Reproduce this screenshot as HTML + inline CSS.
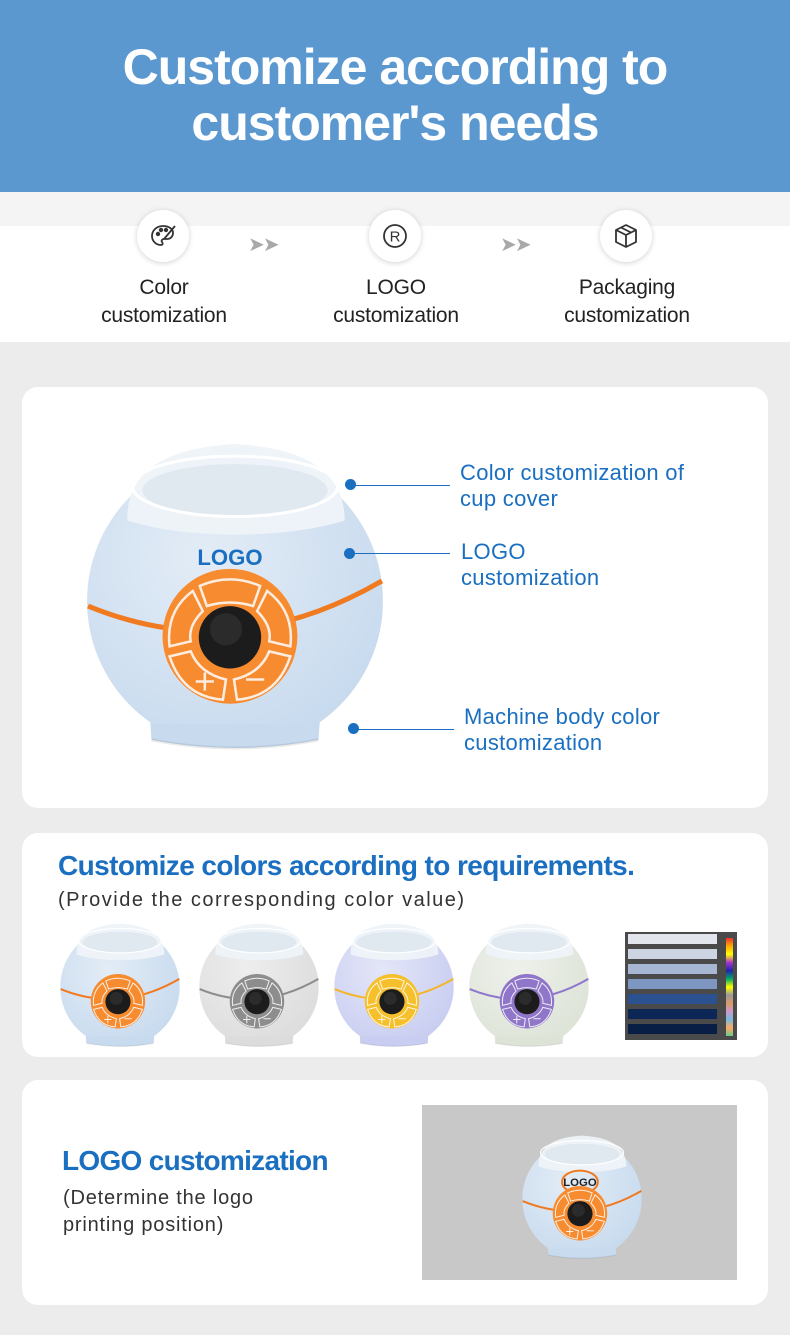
<!DOCTYPE html>
<html><head><meta charset="utf-8">
<style>
*{margin:0;padding:0;box-sizing:border-box}
body{width:790px;height:1335px;background:#ececec;font-family:"Liberation Sans",sans-serif;position:relative;overflow:hidden}
.abs{position:absolute}
.hdr{left:0;top:0;width:790px;height:192px;background:#5b98d0;color:#fff;text-align:center;font-weight:bold;font-size:50px;line-height:56px;letter-spacing:-1px;padding-top:39px}
.strip{left:0;top:192px;width:790px;height:34px;background:#f4f4f4}
.white{left:0;top:226px;width:790px;height:116px;background:#fff}
.ic{width:52px;height:52px;border-radius:50%;background:#fff;box-shadow:0 1px 6px rgba(0,0,0,.18);display:flex;align-items:center;justify-content:center}
.lbl{font-size:21px;line-height:28px;color:#222;text-align:center;width:200px;letter-spacing:-.2px}
.arr{color:#a9a9a9;font-size:20px;letter-spacing:-2px}
.card{background:#fff;border-radius:16px;left:22px;width:746px}
.blue{color:#1a6fc0}
.cl{font-size:22px;line-height:26px;color:#1a6fc0;letter-spacing:.3px}
.dot{width:11px;height:11px;border-radius:50%;background:#1a6fc0}
.ln{height:1px;background:#1a6fc0}
</style></head><body>
<div class="abs hdr">Customize according to<br>customer's needs</div>
<div class="abs strip"></div>
<div class="abs white"></div>

<div class="abs ic" style="left:137px;top:210px"><svg width="28" height="28" viewBox="0 0 28 28" fill="none" stroke="#333" stroke-width="1.8"><path d="M14 4C7 4 3 9 3 14c0 5 4 9 9 9 2 0 2-2 1-3-1-1 0-3 2-3h3c4 0 6-3 6-6 0-4-4-7-10-7z"/><circle cx="9" cy="12" r="1.3" fill="#333"/><circle cx="12" cy="8" r="1.3" fill="#333"/><circle cx="17" cy="8" r="1.3" fill="#333"/><path d="M26 4L15 17"/></svg></div>
<div class="abs ic" style="left:369px;top:210px"><svg width="28" height="28" viewBox="0 0 28 28" fill="none" stroke="#333" stroke-width="1.8"><circle cx="14" cy="14" r="11"/><text x="14" y="19.5" text-anchor="middle" font-size="15" font-family="Liberation Sans" fill="#333" stroke="none">R</text></svg></div>
<div class="abs ic" style="left:600px;top:210px"><svg width="28" height="28" viewBox="0 0 28 28" fill="none" stroke="#333" stroke-width="1.8" stroke-linejoin="round"><path d="M14 3l10 5v12l-10 5-10-5V8z"/><path d="M4 8l10 5 10-5M14 13v12M9 5.5l10 5"/></svg></div>
<div class="abs arr" style="left:248px;top:232px">➤➤</div>
<div class="abs arr" style="left:500px;top:232px">➤➤</div>
<div class="abs lbl" style="left:64px;top:274px">Color<br>customization</div>
<div class="abs lbl" style="left:296px;top:274px">LOGO<br>customization</div>
<div class="abs lbl" style="left:527px;top:274px">Packaging<br>customization</div>

<div class="abs card" style="top:387px;height:421px"></div>
<div class="abs card" style="top:833px;height:224px"></div>
<div class="abs card" style="top:1080px;height:225px"></div>

<div id="m1" class="abs" style="left:86px;top:440px;width:298px;height:312px"></div>

<div class="abs dot" style="left:345px;top:479px"></div><div class="abs ln" style="left:351px;top:485px;width:99px"></div>
<div class="abs dot" style="left:344px;top:548px"></div><div class="abs ln" style="left:350px;top:553px;width:100px"></div>
<div class="abs dot" style="left:348px;top:723px"></div><div class="abs ln" style="left:354px;top:729px;width:100px"></div>
<div class="abs cl" style="left:460px;top:460px">Color customization of<br>cup cover</div>
<div class="abs cl" style="left:461px;top:539px">LOGO<br>customization</div>
<div class="abs cl" style="left:464px;top:704px">Machine body color<br>customization</div>

<div class="abs blue" style="left:58px;top:850px;font-size:28px;font-weight:bold;letter-spacing:-.6px">Customize colors according to requirements.</div>
<div class="abs" style="left:58px;top:889px;font-size:20px;color:#333;letter-spacing:1.5px">(Provide the corresponding color value)</div>

<div id="s1" class="abs" style="left:58px;top:922px;width:124px;height:126px"></div>
<div id="s2" class="abs" style="left:197px;top:922px;width:124px;height:126px"></div>
<div id="s3" class="abs" style="left:332px;top:922px;width:124px;height:126px"></div>
<div id="s4" class="abs" style="left:467px;top:922px;width:124px;height:126px"></div>

<div class="abs" style="left:625px;top:932px;width:112px;height:108px;background:#4a4a4a">
 <div class="abs" style="left:3px;top:2px;width:89px;height:10px;background:#e2e6ec"></div>
 <div class="abs" style="left:3px;top:17px;width:89px;height:10px;background:#cdd5e3"></div>
 <div class="abs" style="left:3px;top:32px;width:89px;height:10px;background:#a7b6d3"></div>
 <div class="abs" style="left:3px;top:47px;width:89px;height:10px;background:#7e97c2"></div>
 <div class="abs" style="left:3px;top:62px;width:89px;height:10px;background:#2c5190"></div>
 <div class="abs" style="left:3px;top:77px;width:89px;height:10px;background:#0c2755"></div>
 <div class="abs" style="left:3px;top:92px;width:89px;height:10px;background:#091e45"></div>
 <div class="abs" style="left:101px;top:6px;width:7px;height:98px;background:linear-gradient(#e33,#fa0,#ff0,#a3c,#22a,#0a6,#ff0,#999,#d96,#c9c,#7bd,#fa6,#6c8)"></div>
</div>

<div class="abs blue" style="left:62px;top:1145px;font-size:28px;font-weight:bold;letter-spacing:-.7px">LOGO customization</div>
<div class="abs" style="left:63px;top:1185px;font-size:20px;line-height:27px;color:#333;letter-spacing:.8px">(Determine the logo<br>printing position)</div>
<div class="abs" style="left:422px;top:1105px;width:315px;height:175px;background:#c8c8c8"></div>
<div id="s5" class="abs" style="left:521px;top:1134px;width:122px;height:126px"></div>

<script>
var n=0;
function mach(body,band,btn,logo,ring){
n++;
return `<svg viewBox="0 0 294 310" width="100%" height="100%">
<defs><radialGradient id="g${n}" cx="0.4" cy="0.35" r="0.7"><stop offset="0" stop-color="#fff" stop-opacity="0.5"/><stop offset="1" stop-color="#fff" stop-opacity="0"/></radialGradient>
<clipPath id="c${n}"><rect x="0" y="0" width="294" height="282"/></clipPath></defs>
<path d="M62 268 L232 268 L230 298 Q147 314 64 298 Z" fill="${body}"/>
<path d="M64 298 Q147 314 230 298" stroke="#000" stroke-opacity=".08" fill="none" stroke-width="3"/>
<g clip-path="url(#c${n})"><circle cx="147" cy="160" r="147" fill="${body}"/><circle cx="147" cy="160" r="147" fill="url(#g${n})"/></g>
<path d="M1 165 Q147 225 293 140" stroke="${band}" stroke-width="5" fill="none"/>
<path d="M40 80 Q38 10 147 4 Q256 10 256 80 Q210 94 147 94 Q84 94 40 80Z" fill="#eef3f8" opacity=".95"/>
<ellipse cx="147" cy="50" rx="92" ry="26" fill="#e0e8f0"/>
<ellipse cx="147" cy="46" rx="102" ry="30" fill="none" stroke="#fff" stroke-width="3"/>
${logo?`<text x="142" y="${ring?128:124}" text-anchor="middle" font-family="Liberation Sans" font-weight="bold" font-size="${ring?28:22}" fill="${logo}">LOGO</text>`:''}
${ring?`<ellipse cx="142" cy="118" rx="44" ry="28" fill="none" stroke="#f07a20" stroke-width="5"/>`:''}
<circle cx="142" cy="195" r="67" fill="${btn}"/>
<g stroke="#fff" stroke-width="2.5" fill="none" opacity=".85">
<path d="M112 145 Q142 132 172 145 L165 165 Q142 158 119 165Z"/>
<path d="M105 150 L115 170 Q100 185 103 200 L82 205 Q78 170 105 150Z"/>
<path d="M179 150 L169 170 Q184 185 181 200 L202 205 Q206 170 179 150Z"/>
<path d="M82 215 L103 210 Q112 232 138 238 L135 258 Q95 255 82 215Z"/>
<path d="M202 215 L181 210 Q172 232 146 238 L149 258 Q189 255 202 215Z"/>
<path d="M108 240h18M117 231v18M158 238h18"/>
</g>
<circle cx="142" cy="196" r="31" fill="#1c1c1c"/>
<circle cx="138" cy="188" r="16" fill="#3a3a3a" opacity=".5"/>
</svg>`}
document.getElementById('m1').innerHTML=mach('#c7daee','#f07a20','#f78b30','#1a6fc0');
document.getElementById('s1').innerHTML=mach('#c7daee','#f07a20','#f78b30');
document.getElementById('s2').innerHTML=mach('#dcdcdc','#8c8c8c','#8d8d8d');
document.getElementById('s3').innerHTML=mach('#c8cdf1','#f5b52a','#f6bf2c');
document.getElementById('s4').innerHTML=mach('#dde3d7','#8e77cc','#8f76c8');
document.getElementById('s5').innerHTML=mach('#c7daee','#f07a20','#f78b30','#222',true);
</script>
</body></html>
